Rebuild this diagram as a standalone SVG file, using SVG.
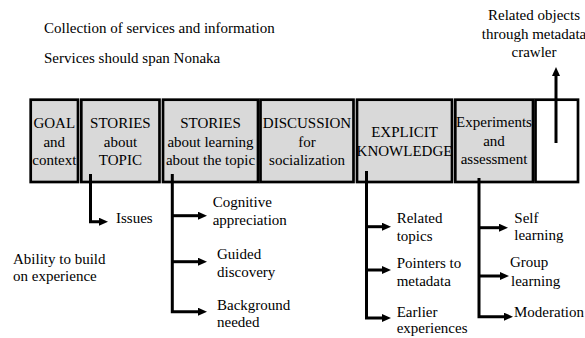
<svg xmlns="http://www.w3.org/2000/svg" width="585" height="338" viewBox="0 0 585 338">
<style>
text{font-family:"Liberation Serif","Times New Roman",serif;font-size:15px;fill:#000}
.c{text-anchor:middle}
.bf{fill:#d9d9d9;stroke:none}
.bw{fill:#fff;stroke:none}
.bs{fill:none;stroke:#000;stroke-width:2.7}
.ln{fill:none;stroke:#000;stroke-width:3}
</style>
<defs>
<marker id="ah" viewBox="0 0 9 8" markerWidth="9" markerHeight="8" refX="1" refY="4" orient="auto" markerUnits="userSpaceOnUse"><path d="M0,0 L9,4 L0,8 z" fill="#000"/></marker>
</defs>
<rect width="585" height="338" fill="#fff"/>
<g id="notes">
<text x="44" y="33">Collection of services and information</text>
<text x="44" y="63">Services should span Nonaka</text>
<text class="c" x="534" y="20">Related objects</text>
<text class="c" x="534" y="38.5">through metadata</text>
<text class="c" x="534" y="57">crawler</text>
<text x="13" y="263.5">Ability to build</text>
<text x="13" y="281">on experience</text>
</g>
<g id="goal">
<rect class="bf" x="30.7" y="99.7" width="47.3" height="82.3"/>
<text class="c" x="54.3" y="128">GOAL</text><text class="c" x="54.3" y="146.5">and</text><text class="c" x="54.3" y="165">context</text>
<rect class="bs" x="30.7" y="99.7" width="47.3" height="82.3"/>
</g>
<g id="stories-topic">
<rect class="bf" x="81.3" y="99.7" width="78.2" height="82.3"/>
<text class="c" x="120.4" y="128">STORIES</text><text class="c" x="120.4" y="146.5">about</text><text class="c" x="120.4" y="165">TOPIC</text>
<rect class="bs" x="81.3" y="99.7" width="78.2" height="82.3"/>
</g>
<g id="stories-learning">
<rect class="bf" x="163" y="99.7" width="95" height="82.3"/>
<text class="c" x="210.5" y="128">STORIES</text><text class="c" x="210.5" y="146.5">about learning</text><text class="c" x="210.5" y="165">about the topic</text>
<rect class="bs" x="163" y="99.7" width="95" height="82.3"/>
</g>
<g id="discussion">
<rect class="bf" x="260.5" y="99.7" width="93" height="82.3"/>
<text class="c" x="307" y="128">DISCUSSION</text><text class="c" x="307" y="146.5">for</text><text class="c" x="307" y="165">socialization</text>
<rect class="bs" x="260.5" y="99.7" width="93" height="82.3"/>
</g>
<g id="explicit">
<rect class="bf" x="357" y="99.7" width="95" height="82.3"/>
<text class="c" x="404.5" y="136.5">EXPLICIT</text><text class="c" x="404.5" y="155.5">KNOWLEDGE</text>
<rect class="bs" x="357" y="99.7" width="95" height="82.3"/>
</g>
<g id="experiments">
<rect class="bf" x="455.3" y="99.7" width="77.7" height="82.3"/>
<text class="c" x="494" y="127">Experiments</text><text class="c" x="494" y="145.5">and</text><text class="c" x="494" y="164">assessment</text>
<rect class="bs" x="455.3" y="99.7" width="77.7" height="82.3"/>
</g>
<g id="empty">
<rect class="bw" x="535.5" y="99.7" width="42.5" height="82.3"/>
<rect class="bs" x="535.5" y="99.7" width="42.5" height="82.3"/>
</g>
<g id="labels">
<text x="116" y="223">Issues</text>
<text x="212.7" y="206.7">Cognitive</text><text x="212.7" y="225">appreciation</text>
<text x="217" y="259.3">Guided</text><text x="217" y="276.5">discovery</text>
<text x="217" y="310">Background</text><text x="217" y="327">needed</text>
<text x="396.7" y="223">Related</text><text x="396.7" y="240.5">topics</text>
<text x="396.7" y="268">Pointers to</text><text x="396.7" y="286">metadata</text>
<text x="396.7" y="316.5">Earlier</text><text x="396.7" y="333">experiences</text>
<text x="514.3" y="223">Self</text><text x="514.3" y="240">learning</text>
<text x="510" y="266.7">Group</text><text x="511" y="286">learning</text>
<text x="514" y="317">Moderation</text>
</g>
<g id="connectors">
<path class="ln" d="M90.5,174 V221.7 H100" marker-end="url(#ah)"/>
<path class="ln" d="M172.3,174 V311.7 H199" marker-end="url(#ah)"/>
<path class="ln" d="M172.3,215.7 H199" marker-end="url(#ah)"/>
<path class="ln" d="M172.3,261.7 H199" marker-end="url(#ah)"/>
<path class="ln" d="M366.5,171 V318 H383" marker-end="url(#ah)"/>
<path class="ln" d="M366.5,226.7 H383" marker-end="url(#ah)"/>
<path class="ln" d="M366.5,270 H383" marker-end="url(#ah)"/>
<path class="ln" d="M479,178 V316.7 H505" marker-end="url(#ah)"/>
<path class="ln" d="M479,227.7 H500" marker-end="url(#ah)"/>
<path class="ln" d="M479,276 H501" marker-end="url(#ah)"/>
<path class="ln" d="M556,143 V75" marker-end="url(#ah)"/>
</g>
</svg>
